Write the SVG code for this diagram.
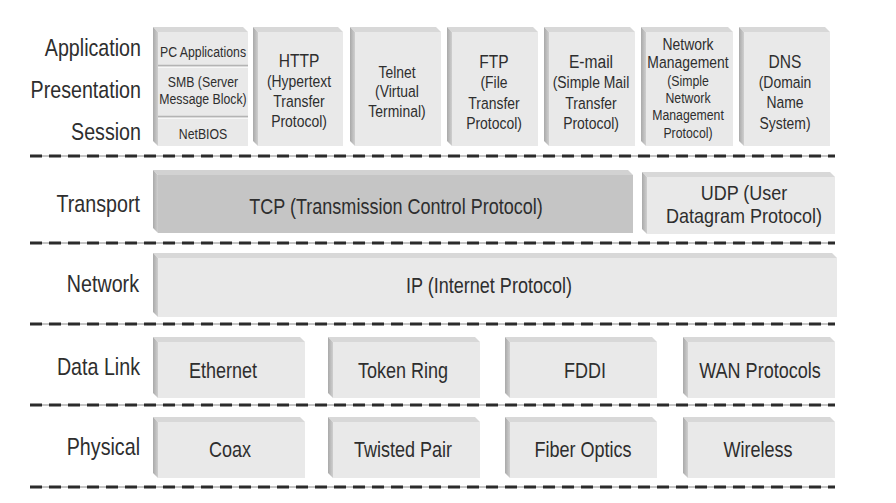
<svg xmlns="http://www.w3.org/2000/svg" width="896" height="503" viewBox="0 0 896 503">
<defs>
<linearGradient id="sideG" x1="0" y1="0" x2="1" y2="0">
<stop offset="0" stop-color="#a9a9a9"/>
<stop offset="1" stop-color="#cfcfcf"/>
</linearGradient>
<style>
.top{fill:#d8d8d8}
.side{fill:url(#sideG)}
.face{fill:#e9e9e9}
.dark .face{fill:#c5c5c5}
.dark .top{fill:#d2d2d2}
.div1{stroke:#b4b4b4;stroke-width:1.5}
.div2{stroke:#f7f7f7;stroke-width:1}
text{font-family:"Liberation Sans",Arial,sans-serif;fill:#2e2e2e}
.lbl{font-size:24px;text-anchor:end}
.big{font-size:22px;text-anchor:middle}
.udp{font-size:20px;text-anchor:middle}
.h19{font-size:19px;text-anchor:middle}
.t17{font-size:17px;text-anchor:middle}
.t15{font-size:15px;text-anchor:middle}
.sepBase{stroke:#8a8a8a;stroke-width:1}
.sepDash{stroke:#2b2b2b;stroke-width:3;stroke-dasharray:12 7}
</style>
</defs>
<rect width="896" height="503" fill="#ffffff"/>

<g id="layer-labels">
<text class="lbl" transform="translate(141 0) scale(.82 1)" y="56">Application</text>
<text class="lbl" transform="translate(141 0) scale(.82 1)" y="98">Presentation</text>
<text class="lbl" transform="translate(141 0) scale(.82 1)" y="140">Session</text>
<text class="lbl" transform="translate(140 0) scale(.82 1)" y="212">Transport</text>
<text class="lbl" transform="translate(139 0) scale(.82 1)" y="292">Network</text>
<text class="lbl" transform="translate(140 0) scale(.82 1)" y="375">Data Link</text>
<text class="lbl" transform="translate(140 0) scale(.82 1)" y="455">Physical</text>
</g>

<g id="pc-smb-netbios">
<polygon class="top" points="153,27 243,27 248,32 158,32"/>
<polygon class="side" points="153,27 158,32 158,146 153,141"/>
<rect class="face" x="158" y="32" width="90" height="114"/>
<line class="div1" x1="158" y1="65.5" x2="248" y2="65.5"/>
<line class="div2" x1="158" y1="67.5" x2="248" y2="67.5"/>
<line class="div1" x1="158" y1="116.5" x2="248" y2="116.5"/>
<line class="div2" x1="158" y1="118.5" x2="248" y2="118.5"/>
<text class="t15" transform="translate(203 0) scale(.82 1)" y="57">PC Applications</text>
<text class="t15" transform="translate(203 0) scale(.82 1)"><tspan x="0" y="87">SMB (Server</tspan><tspan x="0" y="104">Message Block)</tspan></text>
<text class="t15" transform="translate(203 0) scale(.82 1)" y="139">NetBIOS</text>
</g>

<g id="http">
<polygon class="top" points="253,27 338,27 343,32 258,32"/>
<polygon class="side" points="253,27 258,32 258,146 253,141"/>
<rect class="face" x="258" y="32" width="85" height="114"/>
<text class="h19" transform="translate(299 0) scale(.82 1)" y="67">HTTP</text>
<text class="t17" transform="translate(299 0) scale(.82 1)"><tspan x="0" y="87">(Hypertext</tspan><tspan x="0" y="107">Transfer</tspan><tspan x="0" y="127">Protocol)</tspan></text>
</g>

<g id="telnet">
<polygon class="top" points="350,27 436,27 441,32 355,32"/>
<polygon class="side" points="350,27 355,32 355,146 350,141"/>
<rect class="face" x="355" y="32" width="86" height="114"/>
<text class="t17" transform="translate(397 0) scale(.82 1)"><tspan x="0" y="78">Telnet</tspan><tspan x="0" y="97">(Virtual</tspan><tspan x="0" y="117">Terminal)</tspan></text>
</g>

<g id="ftp">
<polygon class="top" points="447,27 533,27 538,32 452,32"/>
<polygon class="side" points="447,27 452,32 452,146 447,141"/>
<rect class="face" x="452" y="32" width="86" height="114"/>
<text class="h19" transform="translate(494 0) scale(.82 1)" y="68">FTP</text>
<text class="t17" transform="translate(494 0) scale(.82 1)"><tspan x="0" y="88">(File</tspan><tspan x="0" y="109">Transfer</tspan><tspan x="0" y="129">Protocol)</tspan></text>
</g>

<g id="email">
<polygon class="top" points="544,27 630,27 635,32 549,32"/>
<polygon class="side" points="544,27 549,32 549,146 544,141"/>
<rect class="face" x="549" y="32" width="86" height="114"/>
<text class="h19" transform="translate(591 0) scale(.82 1)" y="68">E-mail</text>
<text class="t17" transform="translate(591 0) scale(.82 1)"><tspan x="0" y="88">(Simple Mail</tspan><tspan x="0" y="109">Transfer</tspan><tspan x="0" y="129">Protocol)</tspan></text>
</g>

<g id="network-management">
<polygon class="top" points="641,27 728,27 733,32 646,32"/>
<polygon class="side" points="641,27 646,32 646,146 641,141"/>
<rect class="face" x="646" y="32" width="87" height="114"/>
<text class="t17" transform="translate(688 0) scale(.82 1)"><tspan x="0" y="50">Network</tspan><tspan x="0" y="68">Management</tspan></text>
<text class="t15" transform="translate(688 0) scale(.82 1)"><tspan x="0" y="86">(Simple</tspan><tspan x="0" y="103">Network</tspan><tspan x="0" y="120">Management</tspan><tspan x="0" y="138">Protocol)</tspan></text>
</g>

<g id="dns">
<polygon class="top" points="739,27 825,27 830,32 744,32"/>
<polygon class="side" points="739,27 744,32 744,146 739,141"/>
<rect class="face" x="744" y="32" width="86" height="114"/>
<text class="h19" transform="translate(785 0) scale(.82 1)" y="68">DNS</text>
<text class="t17" transform="translate(785 0) scale(.82 1)"><tspan x="0" y="88">(Domain</tspan><tspan x="0" y="108">Name</tspan><tspan x="0" y="129">System)</tspan></text>
</g>

<g id="tcp" class="dark">
<polygon class="top" points="153,170 628,170 633,175 158,175"/>
<polygon class="side" points="153,170 158,175 158,233 153,228"/>
<rect class="face" x="158" y="175" width="475" height="58"/>
<text class="big" transform="translate(396 0) scale(.82 1)" y="214">TCP (Transmission Control Protocol)</text>
</g>

<g id="udp">
<polygon class="top" points="642,172 830,172 835,177 647,177"/>
<polygon class="side" points="642,172 647,177 647,234 642,229"/>
<rect class="face" x="647" y="177" width="188" height="57"/>
<text class="udp" transform="translate(744 0) scale(.9 1)"><tspan x="0" y="200">UDP (User</tspan><tspan x="0" y="223">Datagram Protocol)</tspan></text>
</g>

<g id="ip">
<polygon class="top" points="153,253 832,253 837,258 158,258"/>
<polygon class="side" points="153,253 158,258 158,317 153,312"/>
<rect class="face" x="158" y="258" width="679" height="59"/>
<text class="big" transform="translate(489 0) scale(.82 1)" y="293">IP (Internet Protocol)</text>
</g>

<g id="ethernet">
<polygon class="top" points="153,337 300,337 305,342 158,342"/>
<polygon class="side" points="153,337 158,342 158,398 153,393"/>
<rect class="face" x="158" y="342" width="147" height="56"/>
<text class="big" transform="translate(223 0) scale(.82 1)" y="378">Ethernet</text>
</g>
<g id="token-ring">
<polygon class="top" points="328,337 475,337 480,342 333,342"/>
<polygon class="side" points="328,337 333,342 333,398 328,393"/>
<rect class="face" x="333" y="342" width="147" height="56"/>
<text class="big" transform="translate(403 0) scale(.82 1)" y="378">Token Ring</text>
</g>
<g id="fddi">
<polygon class="top" points="505,337 652,337 657,342 510,342"/>
<polygon class="side" points="505,337 510,342 510,398 505,393"/>
<rect class="face" x="510" y="342" width="147" height="56"/>
<text class="big" transform="translate(585 0) scale(.82 1)" y="378">FDDI</text>
</g>
<g id="wan-protocols">
<polygon class="top" points="683,337 830,337 835,342 688,342"/>
<polygon class="side" points="683,337 688,342 688,398 683,393"/>
<rect class="face" x="688" y="342" width="147" height="56"/>
<text class="big" transform="translate(760 0) scale(.82 1)" y="378">WAN Protocols</text>
</g>

<g id="coax">
<polygon class="top" points="153,417 300,417 305,422 158,422"/>
<polygon class="side" points="153,417 158,422 158,478 153,473"/>
<rect class="face" x="158" y="422" width="147" height="56"/>
<text class="big" transform="translate(230 0) scale(.82 1)" y="457">Coax</text>
</g>
<g id="twisted-pair">
<polygon class="top" points="328,417 475,417 480,422 333,422"/>
<polygon class="side" points="328,417 333,422 333,478 328,473"/>
<rect class="face" x="333" y="422" width="147" height="56"/>
<text class="big" transform="translate(403 0) scale(.82 1)" y="457">Twisted Pair</text>
</g>
<g id="fiber-optics">
<polygon class="top" points="505,417 652,417 657,422 510,422"/>
<polygon class="side" points="505,417 510,422 510,478 505,473"/>
<rect class="face" x="510" y="422" width="147" height="56"/>
<text class="big" transform="translate(583 0) scale(.82 1)" y="457">Fiber Optics</text>
</g>
<g id="wireless">
<polygon class="top" points="683,417 830,417 835,422 688,422"/>
<polygon class="side" points="683,417 688,422 688,478 683,473"/>
<rect class="face" x="688" y="422" width="147" height="56"/>
<text class="big" transform="translate(758 0) scale(.82 1)" y="457">Wireless</text>
</g>

<g id="separators">
<line class="sepBase" x1="30" y1="156" x2="835" y2="156"/>
<line class="sepDash" x1="30" y1="156" x2="835" y2="156"/>
<line class="sepBase" x1="30" y1="243" x2="835" y2="243"/>
<line class="sepDash" x1="30" y1="243" x2="835" y2="243"/>
<line class="sepBase" x1="30" y1="324" x2="835" y2="324"/>
<line class="sepDash" x1="30" y1="324" x2="835" y2="324"/>
<line class="sepBase" x1="30" y1="405" x2="835" y2="405"/>
<line class="sepDash" x1="30" y1="405" x2="835" y2="405"/>
<line class="sepBase" x1="30" y1="487" x2="835" y2="487"/>
<line class="sepDash" x1="30" y1="487" x2="835" y2="487"/>
</g>
</svg>
